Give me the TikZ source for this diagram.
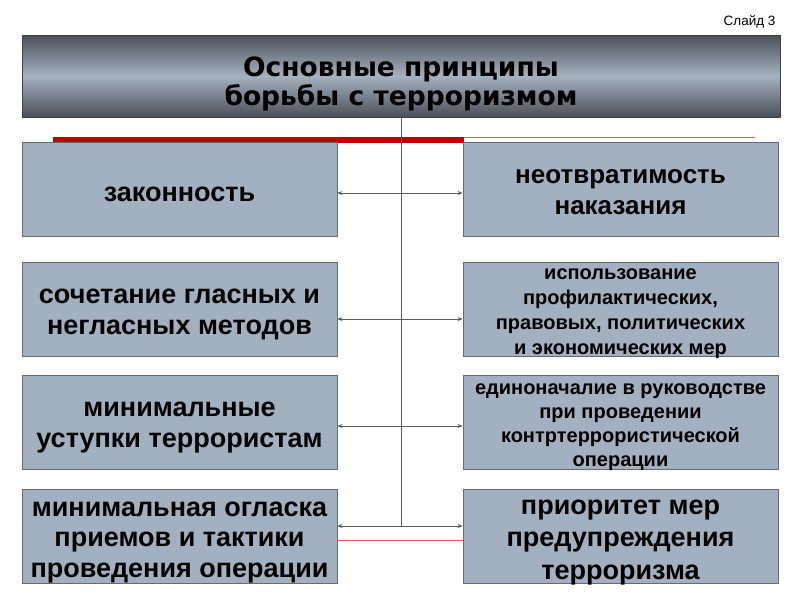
\documentclass[tikz,border=0pt]{standalone}
\usepackage{fontspec}
\setmainfont{Liberation Sans}
\newfontfamily\titlefont{DejaVu Sans}
\usetikzlibrary{arrows.meta, positioning, calc}

\definecolor{boxfill}{HTML}{A3B0BF}
\definecolor{boxline}{HTML}{646B75}
\definecolor{titledark}{HTML}{4A5059}
\definecolor{titlelight}{HTML}{A6B2C0}
\definecolor{barred}{HTML}{C00000}
\definecolor{thinred}{HTML}{E05555}
\definecolor{connline}{HTML}{5A5A5A}

% font size, leading
\newcommand{\boxfont}[2]{\bfseries\fontsize{#1}{#2}\selectfont\lineskiplimit=-50pt}

\begin{document}
\begin{tikzpicture}[x=1pt, y=-1pt,
  pbox/.style={draw=boxline, fill=boxfill, line width=0.8pt, minimum width=315pt,
    minimum height=94pt, align=center, inner sep=0pt},
  % height above / depth below the last baseline
  txtpos/.style 2 args={text height=#1, text depth=#2},
  conn/.style={draw=connline, line width=0.7pt, {Stealth[length=5pt,width=4pt]}-{Stealth[length=5pt,width=4pt]}}]
\useasboundingbox (0,0) rectangle (800,600);
\fill[white] (0,0) rectangle (800,600);

% Slide number
\node[anchor=east, font=\fontsize{13.5}{15}\selectfont] (slide) at (779,22) {Слайд 3};

% Red bar under the title
\fill[barred] (53,137) rectangle (464,143);
\draw[thinred, line width=0.8pt] (464,137.4) -- (755,137.4);

% Title
\node[draw=black!75, line width=0.8pt, top color=titledark, bottom color=titledark,
  middle color=titlelight, minimum width=758pt, minimum height=82pt, align=center,
  inner sep=0pt, font=\titlefont\boxfont{26.5}{29}, txtpos={70pt}{12pt}] (title) at (401,76)
  {Основные принципы\\борьбы с терроризмом};

% Vertical line
\draw[connline, line width=0.7pt] (title.south) -- (401,526);

% Left column
\node[pbox, font=\boxfont{27}{31}, txtpos={59pt}{35pt}] (zak) at (179.5,189) {законность};
\node[pbox, font=\boxfont{27}{31}, txtpos={72pt}{22pt}] (soch) at (179.5,309)
  {сочетание гласных и\\негласных методов};
\node[pbox, font=\boxfont{27}{31}, txtpos={71.5pt}{22.5pt}] (ustup) at (179.5,422.5)
  {минимальные\\уступки террористам};
\node[pbox, font=\boxfont{27}{30.5}, txtpos={88pt}{6pt}] (ogl) at (179.5,536)
  {минимальная огласка\\приемов и тактики\\проведения операции};

% Right column
\node[pbox, font=\boxfont{26}{31}, txtpos={72pt}{22pt}] (neotv) at (620.5,189)
  {неотвратимость\\наказания};
\node[pbox, font=\boxfont{20}{25}, txtpos={92pt}{2pt}] (isp) at (620.5,309)
  {использование\\профилактических,\\правовых, политических\\и экономических мер};
\node[pbox, font=\boxfont{20}{24}, txtpos={90.5pt}{3.5pt}] (edin) at (620.5,422.5)
  {единоначалие в руководстве\\при проведении\\контртеррористической\\операции};
\node[pbox, font=\boxfont{27}{32.5}, txtpos={90pt}{4pt}] (prior) at (620.5,536)
  {приоритет мер\\предупреждения\\терроризма};

% Connectors
\draw[conn] ($(zak.east)+(0,4)$) -- ($(neotv.west)+(0,4)$);
\draw[conn] ($(soch.east)+(0,10)$) -- ($(isp.west)+(0,10)$);
\draw[conn] ($(ustup.east)+(0,3.5)$) -- ($(edin.west)+(0,3.5)$);
\draw[conn] ($(ogl.east)+(0,-10)$) -- ($(prior.west)+(0,-10)$);
\draw[thinred, line width=0.6pt] ($(ogl.east)+(0,4)$) -- ($(prior.west)+(0,4)$);
\end{tikzpicture}
\end{document}
